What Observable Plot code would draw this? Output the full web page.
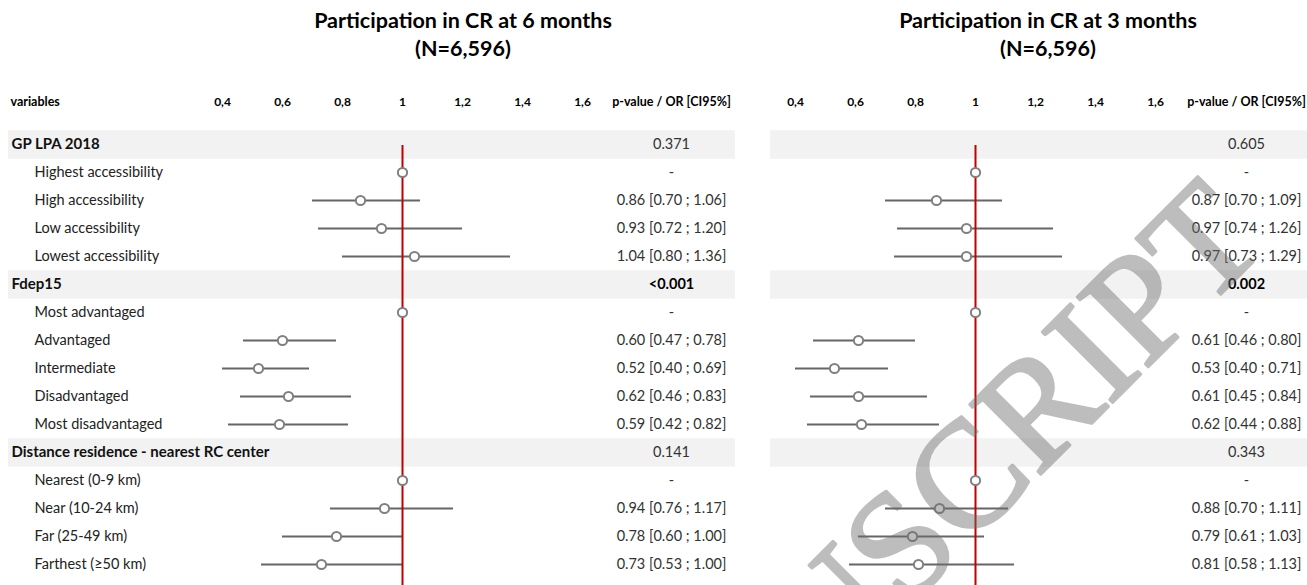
<!DOCTYPE html>
<html><head><meta charset="utf-8">
<script src="https://cdn.jsdelivr.net/npm/d3@7"></script>
<script src="https://cdn.jsdelivr.net/npm/@observablehq/plot@0.6"></script>
<style>
body{margin:0;background:#fff;overflow:hidden;font-family:Lato,sans-serif;}
#wrap{position:relative;width:1307px;height:585px;overflow:hidden;}
.title{position:absolute;top:6px;transform:translateX(-50%);text-align:center;font-weight:bold;font-size:21.5px;line-height:28px;color:#000;white-space:nowrap;}
.panel{position:absolute;top:70px;}
#wm{position:absolute;left:0;top:0;pointer-events:none;}
</style></head><body>
<div id="wrap">
  <div class="title" style="left:463px">Participation in CR at 6 months<br>(N=6,596)</div>
  <div class="title" style="left:1048px">Participation in CR at 3 months<br>(N=6,596)</div>
  <div class="panel" id="left" style="left:0px"></div>
  <div class="panel" id="right" style="left:760px"></div>
  <svg id="wm" width="1307" height="585"><g opacity="0.45"><text x="1270" y="245" text-anchor="end" transform="rotate(-45 1270 245)" font-family="Liberation Serif" font-size="152" fill="#6e6e6e" stroke="#6e6e6e" stroke-width="3" stroke-linejoin="round">MANUSCRIPT</text></g></svg>
</div>
<script>
// ---- data ----
const variables = ["GP LPA 2018", "Fdep15", "Distance residence - nearest RC center"];
const pValues6 = ["0.371", "<0.001", "0.141"];
const pValues3 = ["0.605", "0.002", "0.343"];
const categoryLabels = [
  "Highest accessibility", "High accessibility", "Low accessibility", "Lowest accessibility",
  "Most advantaged", "Advantaged", "Intermediate", "Disadvantaged", "Most disadvantaged",
  "Nearest (0-9 km)", "Near (10-24 km)", "Far (25-49 km)", "Farthest (≥50 km)"
];
const categoryGroup = [0,0,0,0, 1,1,1,1,1, 2,2,2,2];
const or6 = [1, 0.86, 0.93, 1.04, 1, 0.60, 0.52, 0.62, 0.59, 1, 0.94, 0.78, 0.73];
const lo6 = [null, 0.70, 0.72, 0.80, null, 0.47, 0.40, 0.46, 0.42, null, 0.76, 0.60, 0.53];
const hi6 = [null, 1.06, 1.20, 1.36, null, 0.78, 0.69, 0.83, 0.82, null, 1.17, 1.00, 1.00];
const or3 = [1, 0.87, 0.97, 0.97, 1, 0.61, 0.53, 0.61, 0.62, 1, 0.88, 0.79, 0.81];
const lo3 = [null, 0.70, 0.74, 0.73, null, 0.46, 0.40, 0.45, 0.44, null, 0.70, 0.61, 0.58];
const hi3 = [null, 1.09, 1.26, 1.29, null, 0.80, 0.71, 0.84, 0.88, null, 1.11, 1.03, 1.13];
const tickValues = [0.4, 0.6, 0.8, 1, 1.2, 1.4, 1.6];
const tickLabels = ["0,4", "0,6", "0,8", "1", "1,2", "1,4", "1,6"];

function buildRows(or, lo, hi, pvals) {
  const rows = [];
  let r = 0;
  variables.forEach((v, g) => {
    const p = pvals[g];
    const sig = p.startsWith("<") || parseFloat(p) < 0.05;
    rows.push({row: r++, header: true, label: v, value: p, bold: sig});
    categoryLabels.forEach((c, i) => {
      if (categoryGroup[i] !== g) return;
      rows.push({
        row: r++, header: false, label: c, or: or[i], lo: lo[i], hi: hi[i],
        value: lo[i] == null ? "-" : `${or[i].toFixed(2)} [${lo[i].toFixed(2)} ; ${hi[i].toFixed(2)}]`,
        bold: false
      });
    });
  });
  return rows;
}

function panel({rows, width, xRange, marginLeft, marginRight, valueDx, showLabels}) {
  const height = 515, marginTop = 57, marginBottom = 4;
  const band = (height - marginTop - marginBottom) / rows.length;
  const headers = rows.filter(d => d.header);
  const items = rows.filter(d => !d.header);
  const marks = [
    Plot.ruleY(headers, {y: "row", stroke: "#f2f2f2", strokeWidth: band}),
    Plot.ruleY(items.filter(d => d.lo != null), {y: "row", x1: "lo", x2: "hi", stroke: "#666", strokeWidth: 2}),
    Plot.ruleX([1], {stroke: "#c00000", strokeWidth: 2, insetTop: 18, insetBottom: -4}),
    Plot.dot(items, {x: "or", y: "row", r: 4.6, fill: "white", stroke: "#808080", strokeWidth: 2}),
    Plot.text(tickValues, {x: d => d, text: (d, i) => tickLabels[i], frameAnchor: "top", dy: -30, fontWeight: "bold", fontSize: 12, fill: "#000"}),
    Plot.text(["p-value / OR [CI95%]"], {frameAnchor: "top-right", dx: valueDx, dy: -30, textAnchor: "middle", fontWeight: "bold", fontSize: 12.5, fill: "#000"}),
    Plot.text(rows.filter(d => !d.bold), {y: "row", text: "value", frameAnchor: "right", dx: valueDx, textAnchor: "middle", fontSize: 14.5, fill: "#333"}),
    Plot.text(rows.filter(d => d.bold), {y: "row", text: "value", frameAnchor: "right", dx: valueDx, textAnchor: "middle", fontSize: 14.5, fontWeight: "bold", fill: "#000"})
  ];
  if (showLabels) {
    marks.push(
      Plot.text(["variables"], {frameAnchor: "top-left", dx: 2, dy: -30, textAnchor: "start", fontWeight: "bold", fontSize: 12.5, fill: "#000"}),
      Plot.text(headers, {y: "row", text: "label", frameAnchor: "left", dx: 3, textAnchor: "start", fontWeight: "bold", fontSize: 15, fill: "#111"}),
      Plot.text(items, {y: "row", text: "label", frameAnchor: "left", dx: 26, textAnchor: "start", fontSize: 14.5, fill: "#222"})
    );
  }
  return Plot.plot({
    width, height, marginTop, marginBottom, marginLeft, marginRight,
    style: {fontFamily: "Lato, sans-serif", background: "transparent", overflow: "visible"},
    x: {domain: [0.4, 1.6], range: xRange, axis: null},
    y: {type: "band", domain: rows.map(d => d.row), padding: 0, axis: null},
    marks
  });
}

document.getElementById("left").append(panel({
  rows: buildRows(or6, lo6, hi6, pValues6),
  width: 745, xRange: [222, 582], marginLeft: 8, marginRight: 10, valueDx: -64, showLabels: true
}));
document.getElementById("right").append(panel({
  rows: buildRows(or3, lo3, hi3, pValues3),
  width: 547, xRange: [35, 395], marginLeft: 10, marginRight: 0, valueDx: -61, showLabels: false
}));
</script>
</body></html>
